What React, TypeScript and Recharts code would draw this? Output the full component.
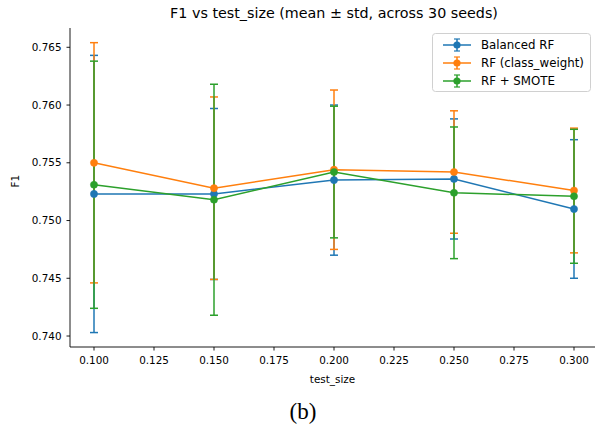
import { ComposedChart, Line, XAxis, YAxis, ErrorBar } from "recharts";

// x positions (test_size)
const testSizes = [0.1, 0.15, 0.2, 0.25, 0.3];

// mean / std F1 per model
const balancedMean = [0.7523, 0.7523, 0.7535, 0.7536, 0.751];
const balancedStd = [0.012, 0.0074, 0.0065, 0.0052, 0.006];
const classWeightMean = [0.755, 0.7528, 0.7544, 0.7542, 0.7526];
const classWeightStd = [0.0104, 0.0079, 0.0069, 0.0053, 0.0054];
const smoteMean = [0.7531, 0.7518, 0.7542, 0.7524, 0.7521];
const smoteStd = [0.0107, 0.01, 0.0057, 0.0057, 0.0058];

const xTicks = [0.1, 0.125, 0.15, 0.175, 0.2, 0.225, 0.25, 0.275, 0.3];
const yTicks = [0.74, 0.745, 0.75, 0.755, 0.76, 0.765];

const series = [
  { key: "bal", err: "balErr", name: "Balanced RF", color: "#1f77b4" },
  { key: "cw", err: "cwErr", name: "RF (class_weight)", color: "#ff7f0e" },
  { key: "sm", err: "smErr", name: "RF + SMOTE", color: "#2ca02c" },
];

const data = testSizes.map((x, i) => ({
  x,
  bal: balancedMean[i],
  balErr: balancedStd[i],
  cw: classWeightMean[i],
  cwErr: classWeightStd[i],
  sm: smoteMean[i],
  smErr: smoteStd[i],
}));

const FONT = "DejaVu Sans, sans-serif";

const LegendBox = () => (
  <svg width={160} height={60} style={{ position: "absolute", left: 432, top: 33 }}>
    <rect x={0.5} y={0.5} width={158} height={58} rx={3} fill="#fff" fillOpacity={0.8} stroke="#d0d0d0" />
    {series.map((s, i) => {
      const cy = 12 + i * 18;
      return (
        <g key={s.key}>
          <line x1={11} x2={39} y1={cy} y2={cy} stroke={s.color} strokeWidth={1.5} />
          <line x1={25} x2={25} y1={cy - 6} y2={cy + 6} stroke={s.color} strokeWidth={1.5} />
          <line x1={22} x2={28} y1={cy - 6} y2={cy - 6} stroke={s.color} strokeWidth={1.2} />
          <line x1={22} x2={28} y1={cy + 6} y2={cy + 6} stroke={s.color} strokeWidth={1.2} />
          <circle cx={25} cy={cy} r={3.6} fill={s.color} />
          <text x={49} y={cy + 4} fontSize={11.8} fontFamily={FONT} fill="#000">
            {s.name}
          </text>
        </g>
      );
    })}
  </svg>
);

export default function App() {
  return (
    <div style={{ position: "absolute", left: 0, top: 0, width: 595, height: 425, background: "#fff", overflow: "hidden" }}>
      <div
        style={{
          position: "absolute",
          top: 5,
          left: 0,
          width: 668,
          textAlign: "center",
          whiteSpace: "nowrap",
          fontFamily: FONT,
          fontSize: 14.3,
          color: "#000",
        }}
      >
        F1 vs test_size (mean ± std, across 30 seeds)
      </div>
      <ComposedChart
        width={595}
        height={425}
        data={data}
        margin={{ top: 28, right: 0, left: 0, bottom: 0 }}
      >
        <XAxis
          xAxisId="top"
          orientation="top"
          dataKey="x"
          type="number"
          domain={[0.09, 0.30875]}
          allowDataOverflow
          tick={false}
          tickLine={false}
          height={0}
          axisLine={{ stroke: "#000", strokeWidth: 0.9 }}
        />
        <XAxis
          dataKey="x"
          type="number"
          domain={[0.09, 0.30875]}
          allowDataOverflow
          ticks={xTicks}
          tickFormatter={(v: number) => v.toFixed(3)}
          interval={0}
          height={78}
          tickSize={3.5}
          tickMargin={6}
          axisLine={{ stroke: "#000", strokeWidth: 0.9 }}
          tickLine={{ stroke: "#000", strokeWidth: 0.9 }}
          tick={{ fill: "#000", fontSize: 10.4, fontFamily: FONT }}
          label={{ value: "test_size", position: "insideTop", offset: 29, fill: "#000", fontSize: 10.4, fontFamily: FONT }}
        />
        <YAxis
          type="number"
          domain={[0.73905, 0.76667]}
          allowDataOverflow
          ticks={yTicks}
          tickFormatter={(v: number) => v.toFixed(3)}
          interval={0}
          width={70}
          tickSize={3.5}
          tickMargin={5}
          axisLine={{ stroke: "#000", strokeWidth: 0.9 }}
          tickLine={{ stroke: "#000", strokeWidth: 0.9 }}
          tick={{ fill: "#000", fontSize: 10.4, fontFamily: FONT }}
          label={{ value: "F1", angle: -90, position: "insideLeft", offset: 15, fill: "#000", fontSize: 10.4, fontFamily: FONT }}
        />
        {series.map((s) => (
          <Line
            key={s.key}
            dataKey={s.key}
            name={s.name}
            stroke={s.color}
            strokeWidth={1.5}
            dot={{ r: 3.6, fill: s.color, stroke: s.color, strokeWidth: 0.5 }}
            activeDot={false}
            isAnimationActive={false}
          >
            <ErrorBar dataKey={s.err} direction="y" width={4} stroke={s.color} strokeWidth={1.5} isAnimationActive={false} />
          </Line>
        ))}
      </ComposedChart>
      <LegendBox />
      <div
        style={{
          position: "absolute",
          top: 399,
          left: 0,
          width: 606,
          textAlign: "center",
          fontFamily: "Liberation Serif, DejaVu Serif, serif",
          fontSize: 23,
          color: "#000",
        }}
      >
        (b)
      </div>
    </div>
  );
}
